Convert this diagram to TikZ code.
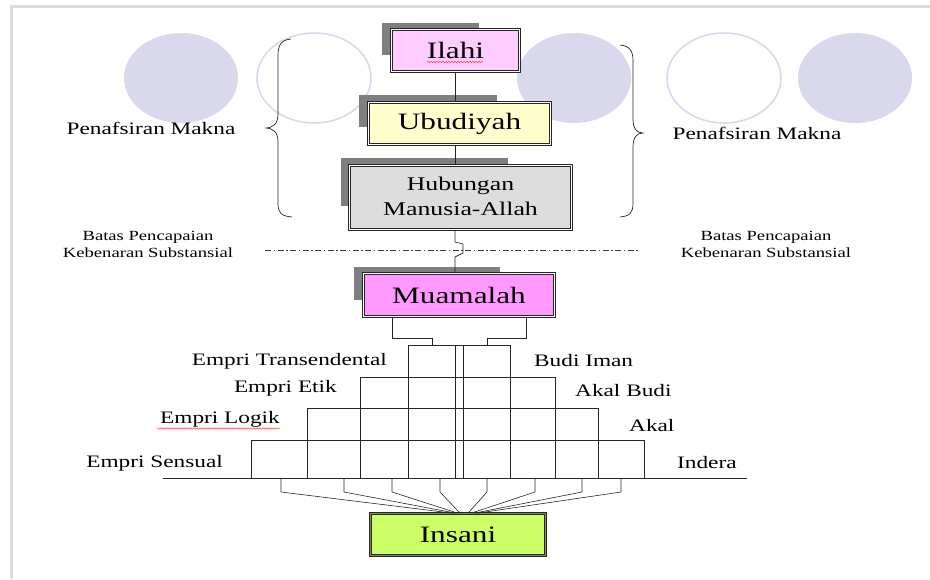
\documentclass[tikz,border=0pt]{standalone}
\usepackage{fontspec}
\setmainfont{Liberation Serif}
\usetikzlibrary{decorations.pathmorphing}
\newcommand{\hs}[1]{\scalebox{1.33}[1]{#1}}
\definecolor{lav}{HTML}{D9D8EC}
\definecolor{ilahic}{HTML}{FFCCFF}
\definecolor{ubudc}{HTML}{FFFFCC}
\definecolor{hubc}{HTML}{DDDDDD}
\definecolor{muamc}{HTML}{FF99FF}
\definecolor{insc}{HTML}{CCFF66}
\definecolor{shad}{HTML}{7F7F7F}
\definecolor{framec}{HTML}{DCDCDC}
\begin{document}
\begin{tikzpicture}[x=1pt,y=-1pt,
  box/.style={draw=black!85, line width=0.6pt, double=white, double distance=1.4pt, inner sep=0pt, align=center},
  shadowbox/.style={fill=shad, draw=none},
  bigtxt/.style={font=\fontsize{23.5}{27}\selectfont},
  lbl/.style={inner sep=0pt, font=\fontsize{17.5}{20}\selectfont},
  small/.style={inner sep=0pt, font=\fontsize{14}{17}\selectfont, align=center},
  ln/.style={line width=0.7pt, draw=black!85},
  ellf/.style={fill=lav, draw=none},
  ello/.style={draw=lav, line width=1.6pt},
  wavy/.style={draw=red!75, line width=0.5pt, decorate, decoration={snake, amplitude=0.8pt, segment length=3pt}}
]
\useasboundingbox (0,0) rectangle (930,579);
% frame
\draw[framec, line width=3pt] (11,579) -- (11,6) -- (930,6);
% background ellipses
\fill[ellf] (181,78) ellipse [x radius=57, y radius=45];
\draw[ello] (314,78) ellipse [x radius=57, y radius=45];
\fill[ellf] (574,78) ellipse [x radius=57, y radius=45];
\draw[ello] (724,78) ellipse [x radius=57, y radius=45];
\fill[ellf] (855,78) ellipse [x radius=57, y radius=45];
% braces
\draw[line width=0.7pt, black!85] (291,39) .. controls (281,40) and (278,45) .. (278,56) -- (278,114)
  .. controls (278,124) and (273,128) .. (265,128) .. controls (273,128) and (278,132) .. (278,142)
  -- (278,203) .. controls (278,213) and (281,216) .. (292,217);
\draw[line width=0.7pt, black!85] (620,45) .. controls (630,46) and (633,51) .. (633,61) -- (633,119)
  .. controls (633,129) and (637,133) .. (643,133) .. controls (637,133) and (633,137) .. (633,147)
  -- (633,203) .. controls (633,213) and (630,216) .. (620,217);
% side labels
\node[lbl] (pmL) at (151,128) {\hs{Penafsiran Makna}};
\node[lbl] (pmR) at (757,133) {\hs{Penafsiran Makna}};
\node[small] (btL) at (148,245.5) {\hs{\begin{tabular}{@{}c@{}}Batas Pencapaian\\Kebenaran Substansial\end{tabular}}};
\node[small] (btR) at (766,245.5) {\hs{\begin{tabular}{@{}c@{}}Batas Pencapaian\\Kebenaran Substansial\end{tabular}}};
% dash-dot boundary
\coordinate (dL) at (265,250);
\coordinate (dR) at (640,250);
\draw[black!75, line width=0.7pt, dash pattern=on 6pt off 2.5pt on 1.5pt off 2.5pt] (dL) -- (dR);
% shadows
\fill[shadowbox] (382,23) rectangle (479,55);
\fill[shadowbox] (359,95) rectangle (497,127);
\fill[shadowbox] (341,158) rectangle (508,206);
\fill[shadowbox] (354,267) rectangle (500,300);
% boxes
\node[box, fill=ilahic, minimum width=128pt, minimum height=42pt, bigtxt] (ilahi) at (455.5,50.5) {\hs{Ilahi}};
\node[box, fill=ubudc, minimum width=182pt, minimum height=42pt, bigtxt] (ubud) at (459.5,123.5) {\hs{Ubudiyah}};
\node[box, fill=hubc, minimum width=222pt, minimum height=64pt, font=\fontsize{19.4}{25}\selectfont] (hub) at (460.5,197.5)
  {\hs{\begin{tabular}{@{}c@{}}Hubungan\\Manusia-Allah\end{tabular}}};
\node[box, fill=muamc, minimum width=191pt, minimum height=43pt, bigtxt] (muam) at (459,295) {\hs{Muamalah}};
\node[box, fill=insc, double=black!40!insc!70!gray, minimum width=175pt, minimum height=42pt, bigtxt] (insani) at (458,534.5) {\hs{Insani}};
% spell-check underline
\draw[wavy] (427,62) -- (483,62);
% vertical connectors
\draw[ln] (455,0 |- ilahi.south) -- (455,0 |- ubud.north);
\draw[ln] (455,0 |- ubud.south) -- (455,0 |- hub.north);
\draw[ln] (455,0 |- hub.south) -- (455,242) -- (463,244) -- (463,253) -- (455,257) -- (455,0 |- muam.north);
% Muamalah brackets
\draw[ln] (392,0 |- muam.south) -- (392,338) -- (432,338) -- (432,345);
\draw[ln] (526,0 |- muam.south) -- (526,338) -- (487,338) -- (487,345);
% staircase
\draw[ln] (408,345) -- (510,345);
\draw[ln] (360,377) -- (555,377);
\draw[ln] (307,408) -- (598,408);
\draw[ln] (251,440) -- (644,440);
\coordinate (bL) at (163,478);
\coordinate (bR) at (747,478);
\draw[ln] (bL) -- (bR);
\foreach \x/\y in {251/440, 307/408, 360/377, 408/345, 455/345, 463/345, 510/345, 555/377, 598/408, 644/440}
  \draw[ln] (\x,\y) -- (\x,478);
% fan to Insani
\foreach \x/\e in {281/453, 344/456, 392/458, 440/460, 487/468, 535/471, 582/474, 621/477}
  \draw[ln, line width=0.6pt] (\x,478) -- (\x,492) -- (\e,0 |- insani.north);
% level labels
\node[lbl, anchor=east] (et) at (387,361) {\hs{Empri Transendental}};
\node[lbl, anchor=east] (ee) at (337,388) {\hs{Empri Etik}};
\node[lbl, anchor=east] (el) at (280,419) {\hs{Empri Logik}};
\node[lbl, anchor=east] (es) at (223,463) {\hs{Empri Sensual}};
\draw[wavy] (157,428.5) -- (280,428.5);
\node[lbl, anchor=west] (bi) at (534,361) {\hs{Budi Iman}};
\node[lbl, anchor=west] (ab) at (575,391) {\hs{Akal Budi}};
\node[lbl, anchor=west] (ak) at (629,426) {\hs{Akal}};
\node[lbl, anchor=west] (in) at (677,463) {\hs{Indera}};
\end{tikzpicture}
\end{document}
